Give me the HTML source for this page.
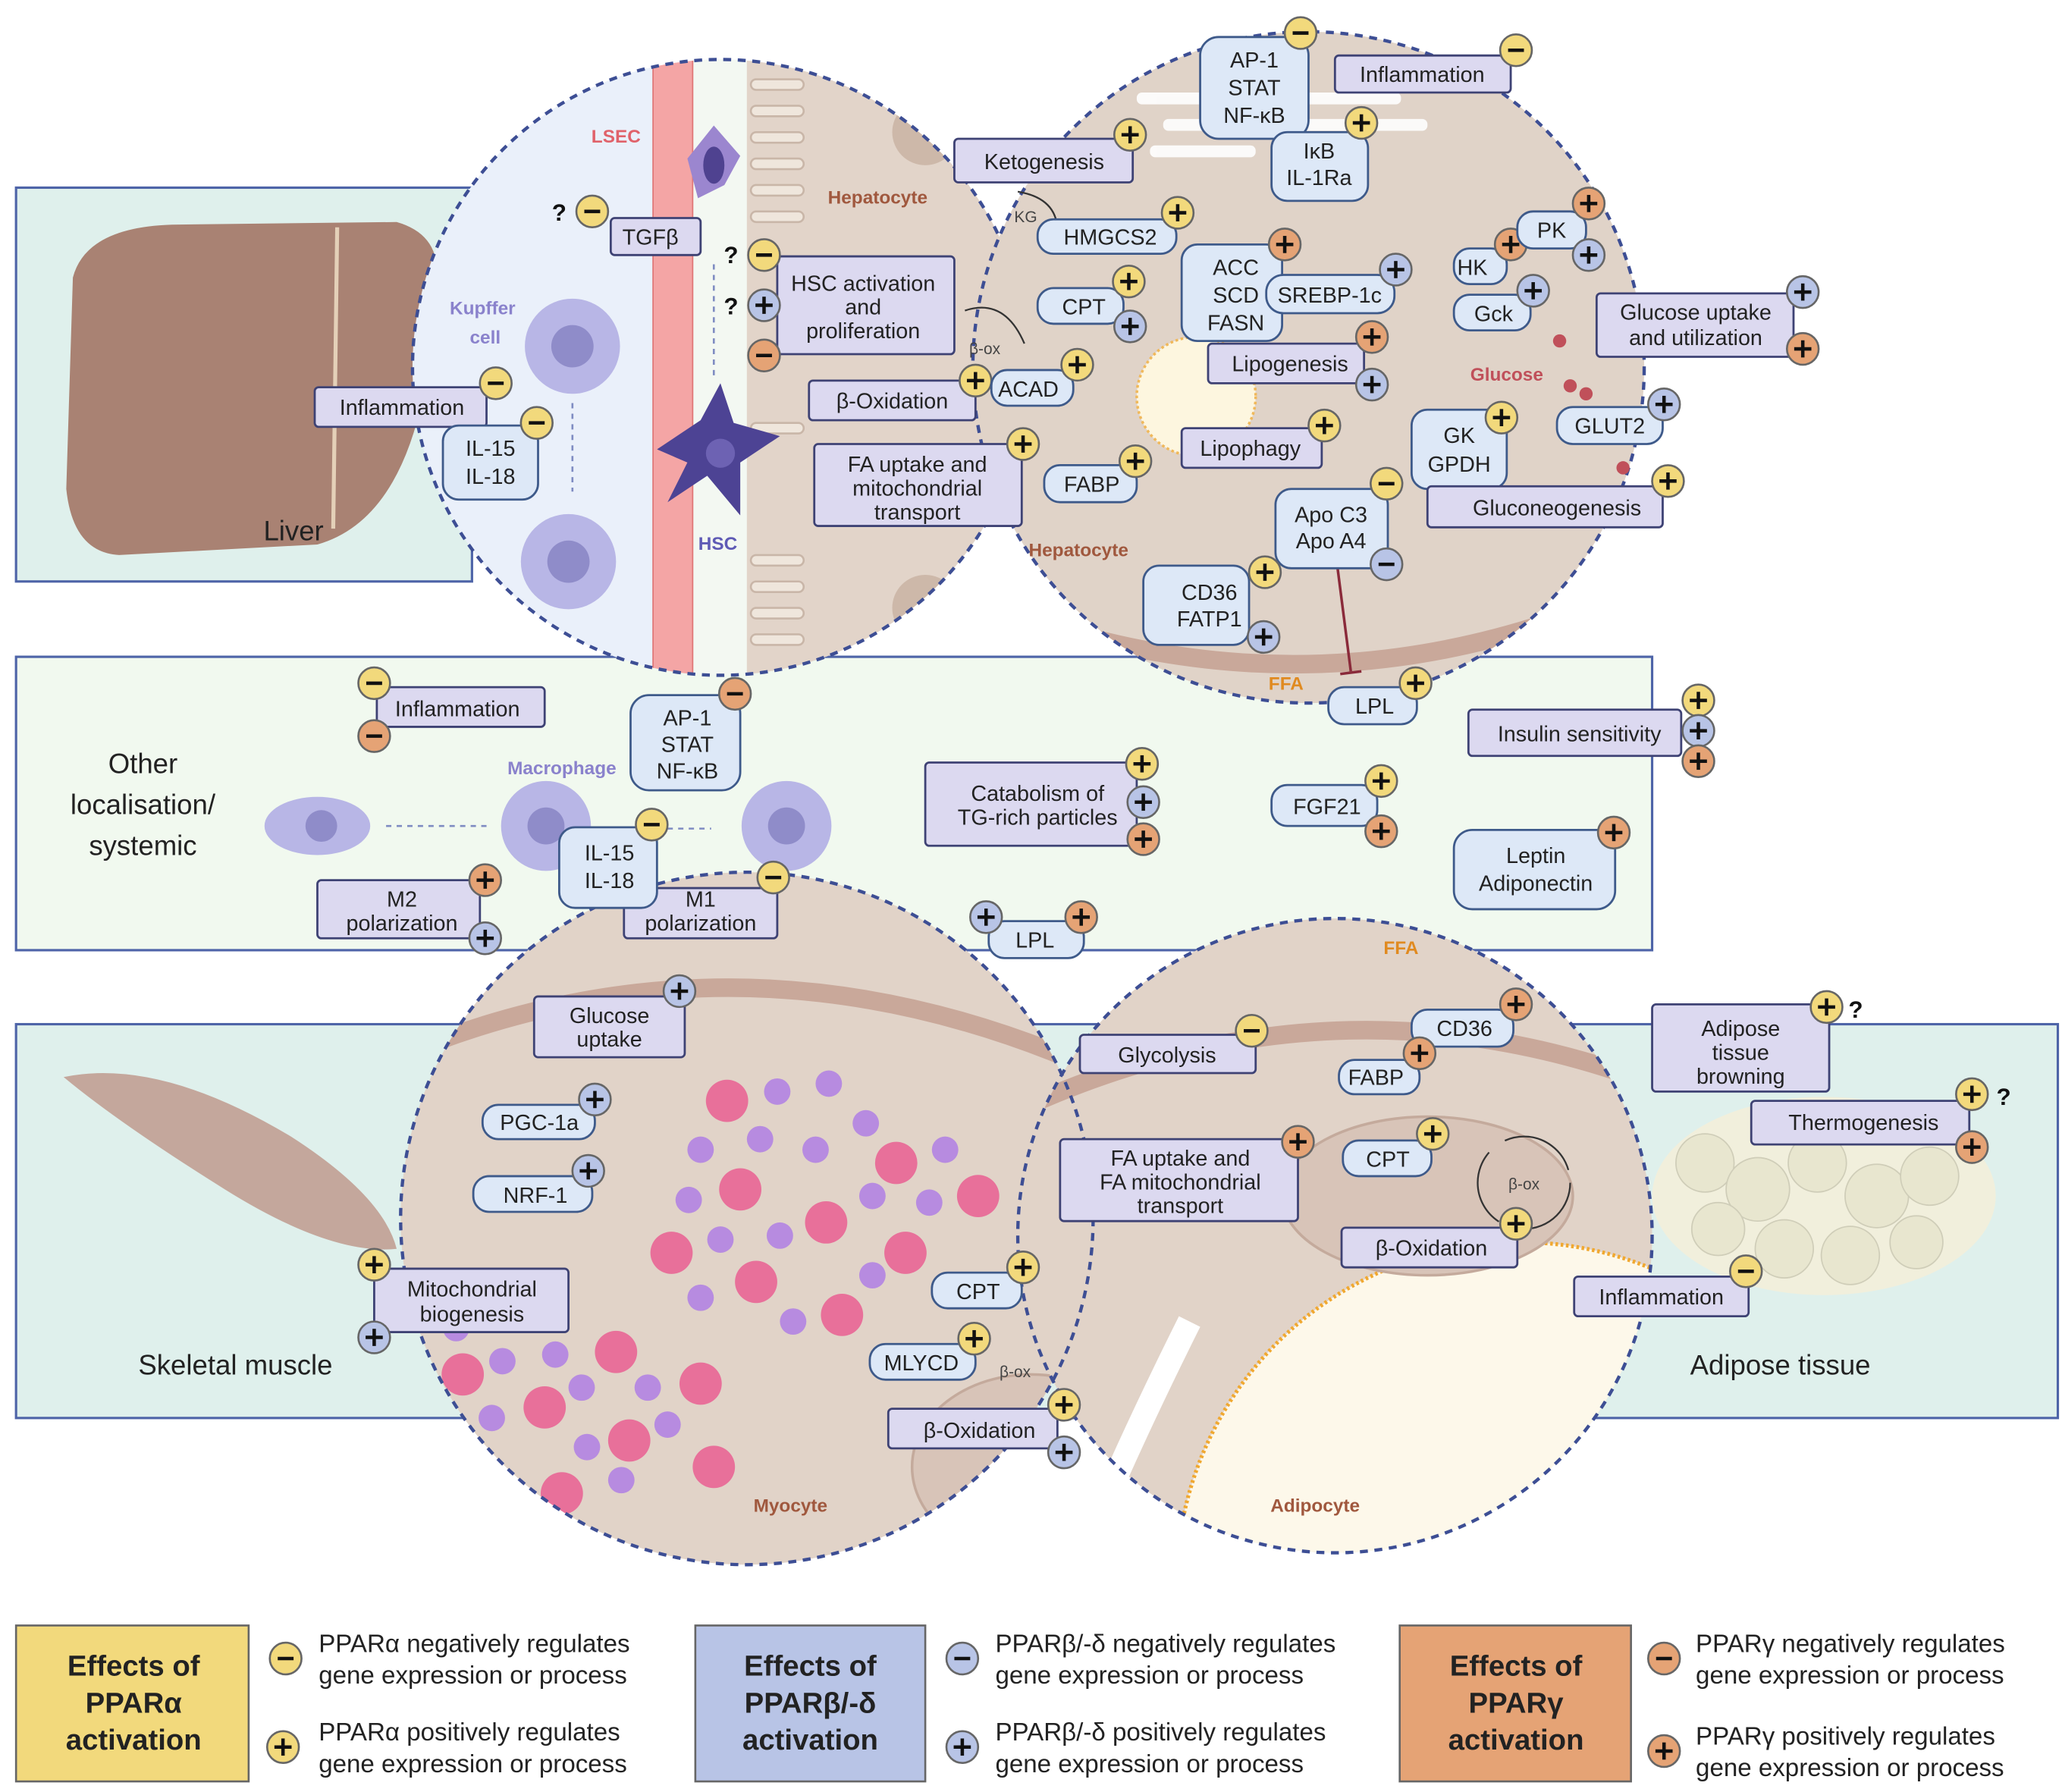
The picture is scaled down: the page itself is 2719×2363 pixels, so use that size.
<!DOCTYPE html>
<html><head><meta charset="utf-8"><style>
html,body{margin:0;padding:0;background:#fff;width:2719px;height:2363px;overflow:hidden}
svg{display:block}
text{font-family:"Liberation Sans",Arial,sans-serif}
.t{font-size:16.5px;fill:#222;text-anchor:middle}
.b{fill:#dcd9f0;stroke:#3e4274;stroke-width:1.6}
.p{fill:#dde8f7;stroke:#3e5a8a;stroke-width:1.6}
.lg{font-size:19px;fill:#222}
</style></head><body>
<svg width="2719" height="2363" viewBox="0 0 1560 1356" xmlns="http://www.w3.org/2000/svg">
<defs>
<g id="mn"><line x1="-6" y1="0" x2="6" y2="0" stroke="#111" stroke-width="2.6"/></g>
<g id="pl"><line x1="-6.5" y1="0" x2="6.5" y2="0" stroke="#111" stroke-width="2.6"/><line x1="0" y1="-6.5" x2="0" y2="6.5" stroke="#111" stroke-width="2.6"/></g>
<g id="ym"><circle r="12" fill="#f2d97c" stroke="#666" stroke-width="1.5"/><use href="#mn"/></g>
<g id="yp"><circle r="12" fill="#f2d97c" stroke="#666" stroke-width="1.5"/><use href="#pl"/></g>
<g id="bm"><circle r="12" fill="#b8c4e6" stroke="#666" stroke-width="1.5"/><use href="#mn"/></g>
<g id="bp"><circle r="12" fill="#b8c4e6" stroke="#666" stroke-width="1.5"/><use href="#pl"/></g>
<g id="om"><circle r="12" fill="#e5a375" stroke="#666" stroke-width="1.5"/><use href="#mn"/></g>
<g id="op"><circle r="12" fill="#e5a375" stroke="#666" stroke-width="1.5"/><use href="#pl"/></g>
<clipPath id="c1"><circle cx="545" cy="278" r="233"/></clipPath>
<clipPath id="c2"><circle cx="990" cy="278" r="254"/></clipPath>
<clipPath id="c3"><circle cx="565" cy="922" r="262"/></clipPath>
<clipPath id="c4"><circle cx="1010" cy="935" r="240"/></clipPath>
</defs>
<rect width="1560" height="1356" fill="#fff"/>
<rect x="12" y="142" width="345" height="298" fill="#dff0ec" stroke="#4e64a8" stroke-width="1.8"/>
<rect x="12" y="497" width="1238" height="222" fill="#f1f9ef" stroke="#4e64a8" stroke-width="1.8"/>
<rect x="12" y="775" width="1545" height="298" fill="#dff0ec" stroke="#4e64a8" stroke-width="1.8"/>
<path d="M55 210 Q65 172 130 170 L300 168 Q335 178 330 215 L320 300 Q300 395 240 412 L90 420 Q55 418 50 370 Z" fill="#a98273"/>
<path d="M255 172 L252 400" stroke="#e4d0b8" stroke-width="3" fill="none"/>
<text x="222" y="409" style="font-size:21px;fill:#222;text-anchor:middle">Liver</text>
<path d="M48 815 Q120 800 220 860 Q290 905 300 945 Q250 950 170 900 Q90 850 48 815 Z" fill="#c4a79c"/>
<text x="178" y="1040" style="font-size:21px;fill:#222;text-anchor:middle">Skeletal muscle</text>
<text x="1347" y="1040" style="font-size:21px;fill:#222;text-anchor:middle">Adipose tissue</text>
<ellipse cx="1380" cy="905" rx="130" ry="75" fill="#f1efdc"/>
<g fill="#e8e6cf" stroke="#cfcdb8">
<circle cx="1290" cy="880" r="22"/><circle cx="1330" cy="900" r="24"/><circle cx="1375" cy="880" r="22"/><circle cx="1420" cy="905" r="24"/><circle cx="1460" cy="890" r="22"/><circle cx="1350" cy="945" r="22"/><circle cx="1400" cy="950" r="22"/><circle cx="1450" cy="940" r="20"/><circle cx="1300" cy="930" r="20"/></g>
<text x="108" y="585" style="font-size:21px;fill:#222;text-anchor:middle">Other</text>
<text x="108" y="616" style="font-size:21px;fill:#222;text-anchor:middle">localisation/</text>
<text x="108" y="647" style="font-size:21px;fill:#222;text-anchor:middle">systemic</text>

<g clip-path="url(#c1)">
<rect x="300" y="40" width="500" height="480" fill="#eaf0fa"/>
<rect x="522" y="40" width="50" height="480" fill="#f3f8f2"/>
<rect x="565" y="40" width="240" height="480" fill="#e2d4c9"/>
<rect x="494" y="40" width="30" height="480" fill="#f4a5a5" stroke="#e07676"/>
<g stroke="#c9b6a8" fill="#efe6dc" stroke-width="1.5">
<rect x="568" y="60" width="40" height="8" rx="4"/><rect x="568" y="80" width="40" height="8" rx="4"/><rect x="568" y="100" width="40" height="8" rx="4"/><rect x="568" y="120" width="40" height="8" rx="4"/><rect x="568" y="140" width="40" height="8" rx="4"/><rect x="568" y="160" width="40" height="8" rx="4"/><rect x="568" y="320" width="40" height="8" rx="4"/><rect x="568" y="420" width="40" height="8" rx="4"/><rect x="568" y="440" width="40" height="8" rx="4"/><rect x="568" y="460" width="40" height="8" rx="4"/><rect x="568" y="480" width="40" height="8" rx="4"/></g>
<circle cx="700" cy="460" r="25" fill="#cdb8a9"/>
<circle cx="700" cy="100" r="25" fill="#cdb8a9"/>
</g>
<circle cx="545" cy="278" r="233" fill="none" stroke="#3d4e94" stroke-width="2.5" stroke-dasharray="6 5"/>
<circle cx="433" cy="262" r="36" fill="#b8b6e6"/><circle cx="433" cy="262" r="16" fill="#8f8cc9"/>
<circle cx="430" cy="425" r="36" fill="#b8b6e6"/><circle cx="430" cy="425" r="16" fill="#8f8cc9"/>
<path d="M540 95 L560 118 L548 140 L528 150 L520 120 Z" fill="#9b86cf"/><ellipse cx="540" cy="125" rx="8" ry="14" fill="#4f4290"/>
<path d="M497 340 L530 318 L545 290 L555 320 L590 330 L560 350 L560 390 L535 360 L505 380 L520 350 Z" fill="#4d4394"/><circle cx="545" cy="343" r="11" fill="#6d62b3"/>
<line x1="433" y1="305" x2="433" y2="372" stroke="#7f8cc2" stroke-width="1.5" stroke-dasharray="4 4"/>
<line x1="540" y1="200" x2="540" y2="285" stroke="#7f8cc2" stroke-width="1.5" stroke-dasharray="4 4"/>
<text x="466" y="108" style="font-size:14px;font-weight:bold;fill:#e0626a;text-anchor:middle">LSEC</text>
<text x="365" y="238" style="font-size:14px;font-weight:bold;fill:#8a82cc;text-anchor:middle">Kupffer</text>
<text x="367" y="260" style="font-size:14px;font-weight:bold;fill:#8a82cc;text-anchor:middle">cell</text>
<text x="543" y="416" style="font-size:14px;font-weight:bold;fill:#5e5ab5;text-anchor:middle">HSC</text>
<text x="664" y="154" style="font-size:14px;font-weight:bold;fill:#a0583e;text-anchor:middle">Hepatocyte</text>

<g clip-path="url(#c2)">
<rect x="730" y="20" width="520" height="520" fill="#e0d3c8"/>
<path d="M730 450 Q990 560 1250 440" stroke="#c9a89a" stroke-width="14" fill="none"/>
<g fill="#fff" opacity="0.9"><rect x="860" y="70" width="200" height="9" rx="4"/><rect x="880" y="90" width="200" height="9" rx="4"/><rect x="870" y="110" width="80" height="9" rx="4"/></g>
<circle cx="905" cy="300" r="45" fill="#fdf6df" stroke="#f0b85a" stroke-width="2" stroke-dasharray="2 2"/>
</g>
<circle cx="990" cy="278" r="254" fill="none" stroke="#3d4e94" stroke-width="2.5" stroke-dasharray="6 5"/>
<g fill="#c0505a"><circle cx="1180" cy="258" r="5"/><circle cx="1188" cy="292" r="5"/><circle cx="1200" cy="298" r="5"/><circle cx="1228" cy="354" r="5"/></g>
<text x="1140" y="288" style="font-size:14px;font-weight:bold;fill:#c0505a;text-anchor:middle">Glucose</text>
<text x="816" y="421" style="font-size:14px;font-weight:bold;fill:#a0583e;text-anchor:middle">Hepatocyte</text>
<text x="973" y="522" style="font-size:14px;font-weight:bold;fill:#e08a20;text-anchor:middle">FFA</text>
<text x="776" y="168" style="font-size:12px;fill:#444;text-anchor:middle">KG</text>
<text x="745" y="268" style="font-size:12px;fill:#444;text-anchor:middle">β-ox</text>
<path d="M770 145 Q800 150 800 175" stroke="#333" fill="none" stroke-width="1.3"/>
<path d="M730 235 Q760 225 775 260" stroke="#333" fill="none" stroke-width="1.3"/>
<path d="M1012 430 L1022 508" stroke="#8a2a3a" stroke-width="2"/><path d="M1014 510 L1030 508" stroke="#8a2a3a" stroke-width="2"/>

<circle cx="413" cy="625" r="34" fill="#b8b6e6"/><circle cx="413" cy="625" r="14" fill="#8f8cc9"/>
<circle cx="595" cy="625" r="34" fill="#b8b6e6"/><circle cx="595" cy="625" r="14" fill="#8f8cc9"/>
<ellipse cx="240" cy="625" rx="40" ry="22" fill="#b8b6e6"/><circle cx="243" cy="625" r="12" fill="#8f8cc9"/>
<line x1="292" y1="625" x2="368" y2="625" stroke="#7f8cc2" stroke-width="1.5" stroke-dasharray="4 4"/>
<line x1="497" y1="627" x2="538" y2="627" stroke="#7f8cc2" stroke-width="1.5" stroke-dasharray="4 4"/>
<text x="425" y="586" style="font-size:14px;font-weight:bold;fill:#8a82cc;text-anchor:middle">Macrophage</text>

<g clip-path="url(#c3)">
<rect x="300" y="650" width="540" height="540" fill="#e1d3c8"/>
<path d="M300 800 Q560 690 830 810" stroke="#c9a89a" stroke-width="14" fill="none"/>
<g fill="#e8709a"><circle cx="550" cy="833" r="16"/><circle cx="678" cy="880" r="16"/><circle cx="560" cy="900" r="16"/><circle cx="625" cy="925" r="16"/><circle cx="740" cy="905" r="16"/><circle cx="508" cy="948" r="16"/><circle cx="685" cy="948" r="16"/><circle cx="572" cy="970" r="16"/><circle cx="637" cy="995" r="16"/><circle cx="350" cy="1040" r="16"/><circle cx="412" cy="1065" r="16"/><circle cx="466" cy="1023" r="16"/><circle cx="530" cy="1047" r="16"/><circle cx="476" cy="1090" r="16"/><circle cx="540" cy="1110" r="16"/><circle cx="425" cy="1130" r="16"/></g>
<g fill="#b78be0"><circle cx="588" cy="826" r="10"/><circle cx="627" cy="820" r="10"/><circle cx="530" cy="870" r="10"/><circle cx="575" cy="862" r="10"/><circle cx="617" cy="870" r="10"/><circle cx="655" cy="850" r="10"/><circle cx="715" cy="870" r="10"/><circle cx="521" cy="908" r="10"/><circle cx="660" cy="905" r="10"/><circle cx="703" cy="910" r="10"/><circle cx="545" cy="938" r="10"/><circle cx="590" cy="935" r="10"/><circle cx="660" cy="965" r="10"/><circle cx="530" cy="982" r="10"/><circle cx="600" cy="1000" r="10"/><circle cx="345" cy="1005" r="10"/><circle cx="380" cy="1030" r="10"/><circle cx="420" cy="1025" r="10"/><circle cx="440" cy="1050" r="10"/><circle cx="490" cy="1050" r="10"/><circle cx="372" cy="1073" r="10"/><circle cx="444" cy="1095" r="10"/><circle cx="505" cy="1078" r="10"/><circle cx="470" cy="1120" r="10"/></g>
<ellipse cx="780" cy="1110" rx="90" ry="70" fill="#d8c4b8" stroke="#c4aa9c" stroke-width="2"/>
</g>
<g clip-path="url(#c4)">
<rect x="765" y="690" width="500" height="500" fill="#e1d3c8"/>
<path d="M770 840 Q1010 730 1250 820" stroke="#c9a89a" stroke-width="14" fill="none"/>
<circle cx="1150" cy="1200" r="260" fill="#fdf8ea" stroke="#f0a830" stroke-width="3" stroke-dasharray="2 2"/>
<ellipse cx="1080" cy="905" rx="110" ry="60" fill="#d8c4b8" stroke="#c4aa9c" stroke-width="2"/>
<path d="M900 1000 Q860 1080 830 1150" stroke="#fff" stroke-width="18" fill="none"/>
</g>
<circle cx="565" cy="922" r="262" fill="none" stroke="#3d4e94" stroke-width="2.5" stroke-dasharray="6 5"/>
<circle cx="1010" cy="935" r="240" fill="none" stroke="#3d4e94" stroke-width="2.5" stroke-dasharray="6 5"/>
<text x="598" y="1144" style="font-size:14px;font-weight:bold;fill:#a0583e;text-anchor:middle">Myocyte</text>
<text x="995" y="1144" style="font-size:14px;font-weight:bold;fill:#a0583e;text-anchor:middle">Adipocyte</text>
<text x="1060" y="722" style="font-size:14px;font-weight:bold;fill:#e08a20;text-anchor:middle">FFA</text>
<text x="768" y="1042" style="font-size:12px;fill:#444;text-anchor:middle">β-ox</text>
<text x="1153" y="900" style="font-size:12px;fill:#444;text-anchor:middle">β-ox</text>
<circle cx="1153" cy="895" r="35" fill="none" stroke="#333" stroke-width="1.3" stroke-dasharray="60 15"/>

<rect class="p" x="908" y="28" width="82" height="77" rx="14"/>
<text class="t" x="949" y="51">AP-1</text><text class="t" x="949" y="72">STAT</text><text class="t" x="949" y="93">NF-κB</text>
<use href="#ym" x="984" y="25"/>
<rect class="b" x="1010" y="42" width="133" height="28" rx="3"/><text class="t" x="1076" y="62">Inflammation</text><use href="#ym" x="1147" y="38"/>
<rect class="p" x="962" y="100" width="73" height="52" rx="12"/><text class="t" x="998" y="120">IκB</text><text class="t" x="998" y="140">IL-1Ra</text><use href="#yp" x="1030" y="93"/>
<rect class="b" x="722" y="105" width="135" height="33" rx="3"/><text class="t" x="790" y="128">Ketogenesis</text><use href="#yp" x="855" y="102"/>
<rect class="p" x="785" y="166" width="105" height="26" rx="12"/><text class="t" x="840" y="185">HMGCS2</text><use href="#yp" x="891" y="161"/>
<rect class="p" x="785" y="218" width="65" height="27" rx="12"/><text class="t" x="820" y="238">CPT</text><use href="#yp" x="854" y="213"/><use href="#bp" x="855" y="247"/>
<rect class="p" x="894" y="185" width="76" height="73" rx="12"/><text class="t" x="935" y="208">ACC</text><text class="t" x="935" y="229">SCD</text><text class="t" x="935" y="250">FASN</text><use href="#op" x="972" y="185"/>
<rect class="p" x="958" y="208" width="97" height="29" rx="13"/><text class="t" x="1006" y="229">SREBP-1c</text><use href="#bp" x="1056" y="204"/>
<rect class="b" x="914" y="260" width="118" height="30" rx="3"/><text class="t" x="976" y="281">Lipogenesis</text><use href="#op" x="1038" y="255"/><use href="#bp" x="1038" y="291"/>
<rect class="p" x="1100" y="188" width="40" height="27" rx="12"/><text class="t" x="1114" y="208">HK</text><use href="#op" x="1143" y="185"/>
<rect class="p" x="1148" y="160" width="52" height="28" rx="12"/><text class="t" x="1174" y="180">PK</text><use href="#op" x="1202" y="154"/><use href="#bp" x="1202" y="193"/>
<rect class="p" x="1100" y="223" width="58" height="27" rx="12"/><text class="t" x="1130" y="243">Gck</text><use href="#bp" x="1160" y="220"/>
<rect class="b" x="1208" y="222" width="149" height="48" rx="3"/><text class="t" x="1283" y="242">Glucose uptake</text><text class="t" x="1283" y="261">and utilization</text><use href="#bp" x="1364" y="221"/><use href="#op" x="1364" y="264"/>
<rect class="p" x="1178" y="308" width="80" height="28" rx="12"/><text class="t" x="1218" y="328">GLUT2</text><use href="#bp" x="1259" y="306"/>
<rect class="p" x="1068" y="310" width="72" height="60" rx="12"/><text class="t" x="1104" y="335">GK</text><text class="t" x="1104" y="357">GPDH</text><use href="#yp" x="1136" y="316"/>
<rect class="b" x="1080" y="368" width="178" height="31" rx="3"/><text class="t" x="1178" y="390">Gluconeogenesis</text><use href="#yp" x="1262" y="364"/>
<rect class="b" x="894" y="324" width="106" height="30" rx="3"/><text class="t" x="946" y="345">Lipophagy</text><use href="#yp" x="1002" y="322"/>
<rect class="p" x="790" y="352" width="70" height="28" rx="12"/><text class="t" x="826" y="372">FABP</text><use href="#yp" x="859" y="349"/>
<rect class="p" x="965" y="370" width="85" height="60" rx="12"/><text class="t" x="1007" y="395">Apo C3</text><text class="t" x="1007" y="415">Apo A4</text><use href="#ym" x="1049" y="366"/><use href="#bm" x="1049" y="427"/>
<rect class="p" x="865" y="428" width="80" height="60" rx="12"/><text class="t" x="915" y="454">CD36</text><text class="t" x="915" y="474">FATP1</text><use href="#yp" x="957" y="433"/><use href="#bp" x="956" y="482"/>
<rect class="p" x="1005" y="520" width="67" height="28" rx="12"/><text class="t" x="1040" y="540">LPL</text><use href="#yp" x="1071" y="517"/>
<rect class="b" x="588" y="194" width="134" height="74" rx="3"/><text class="t" x="653" y="220">HSC activation</text><text class="t" x="653" y="238">and</text><text class="t" x="653" y="256">proliferation</text>
<use href="#ym" x="578" y="193"/><use href="#bp" x="578" y="231"/><use href="#om" x="578" y="269"/>
<text x="553" y="199" style="font-size:18px;font-weight:bold;fill:#111;text-anchor:middle">?</text>
<text x="553" y="238" style="font-size:18px;font-weight:bold;fill:#111;text-anchor:middle">?</text>
<rect class="b" x="462" y="165" width="68" height="28" rx="3"/><text class="t" x="492" y="185">TGFβ</text><use href="#ym" x="448" y="160"/>
<text x="423" y="167" style="font-size:18px;font-weight:bold;fill:#111;text-anchor:middle">?</text>
<rect class="b" x="612" y="288" width="126" height="30" rx="3"/><text class="t" x="675" y="309">β-Oxidation</text><use href="#yp" x="738" y="288"/>
<rect class="p" x="750" y="280" width="62" height="27" rx="12"/><text class="t" x="778" y="300">ACAD</text><use href="#yp" x="815" y="276"/>
<rect class="b" x="616" y="336" width="157" height="62" rx="3"/><text class="t" x="694" y="357">FA uptake and</text><text class="t" x="694" y="375">mitochondrial</text><text class="t" x="694" y="393">transport</text><use href="#yp" x="774" y="336"/>
<rect class="b" x="238" y="293" width="130" height="30" rx="3"/><text class="t" x="304" y="314">Inflammation</text><use href="#ym" x="375" y="290"/>
<rect class="p" x="335" y="322" width="72" height="56" rx="12"/><text class="t" x="371" y="345">IL-15</text><text class="t" x="371" y="366">IL-18</text><use href="#ym" x="406" y="320"/>

<rect class="b" x="285" y="520" width="127" height="30" rx="3"/><text class="t" x="346" y="542">Inflammation</text><use href="#ym" x="283" y="517"/><use href="#om" x="283" y="557"/>
<rect class="p" x="477" y="526" width="83" height="72" rx="14"/><text class="t" x="520" y="549">AP-1</text><text class="t" x="520" y="569">STAT</text><text class="t" x="520" y="589">NF-κB</text><use href="#om" x="556" y="525"/>
<rect class="b" x="472" y="672" width="116" height="38" rx="3"/><text class="t" x="530" y="686">M1</text><text class="t" x="530" y="704">polarization</text><use href="#ym" x="585" y="664"/>
<rect class="p" x="423" y="626" width="74" height="61" rx="12"/><text class="t" x="461" y="651">IL-15</text><text class="t" x="461" y="672">IL-18</text><use href="#ym" x="493" y="624"/>
<rect class="b" x="240" y="666" width="123" height="44" rx="3"/><text class="t" x="304" y="686">M2</text><text class="t" x="304" y="704">polarization</text><use href="#op" x="367" y="666"/><use href="#bp" x="367" y="710"/>
<rect class="b" x="700" y="577" width="160" height="63" rx="3"/><text class="t" x="785" y="606">Catabolism of</text><text class="t" x="785" y="624">TG-rich particles</text><use href="#yp" x="864" y="578"/><use href="#bp" x="865" y="607"/><use href="#op" x="865" y="635"/>
<rect class="p" x="748" y="697" width="72" height="28" rx="12"/><text class="t" x="783" y="717">LPL</text><use href="#bp" x="746" y="694"/><use href="#op" x="818" y="694"/>
<rect class="p" x="962" y="594" width="80" height="31" rx="12"/><text class="t" x="1004" y="616">FGF21</text><use href="#yp" x="1045" y="591"/><use href="#op" x="1045" y="629"/>
<rect class="b" x="1111" y="537" width="161" height="35" rx="3"/><text class="t" x="1195" y="561">Insulin sensitivity</text><use href="#yp" x="1285" y="530"/><use href="#bp" x="1285" y="553"/><use href="#op" x="1285" y="576"/>
<rect class="p" x="1100" y="628" width="122" height="60" rx="14"/><text class="t" x="1162" y="653">Leptin</text><text class="t" x="1162" y="674">Adiponectin</text><use href="#op" x="1221" y="630"/>

<rect class="b" x="404" y="754" width="114" height="46" rx="3"/><text class="t" x="461" y="774">Glucose</text><text class="t" x="461" y="792">uptake</text><use href="#bp" x="514" y="750"/>
<rect class="p" x="365" y="836" width="85" height="26" rx="12"/><text class="t" x="408" y="855">PGC-1a</text><use href="#bp" x="450" y="832"/>
<rect class="p" x="358" y="890" width="90" height="27" rx="12"/><text class="t" x="405" y="910">NRF-1</text><use href="#bp" x="445" y="886"/>
<rect class="b" x="283" y="960" width="147" height="48" rx="3"/><text class="t" x="357" y="981">Mitochondrial</text><text class="t" x="357" y="1000">biogenesis</text><use href="#yp" x="283" y="957"/><use href="#bp" x="283" y="1012"/>
<rect class="p" x="705" y="963" width="68" height="27" rx="12"/><text class="t" x="740" y="983">CPT</text><use href="#yp" x="774" y="959"/>
<rect class="p" x="658" y="1017" width="80" height="27" rx="12"/><text class="t" x="697" y="1037">MLYCD</text><use href="#yp" x="737" y="1013"/>
<rect class="b" x="672" y="1066" width="128" height="30" rx="3"/><text class="t" x="741" y="1088">β-Oxidation</text><use href="#yp" x="805" y="1063"/><use href="#bp" x="805" y="1099"/>
<rect class="b" x="817" y="783" width="133" height="29" rx="3"/><text class="t" x="883" y="804">Glycolysis</text><use href="#ym" x="947" y="780"/>
<rect class="p" x="1068" y="764" width="77" height="28" rx="12"/><text class="t" x="1108" y="784">CD36</text><use href="#op" x="1147" y="760"/>
<rect class="p" x="1013" y="802" width="61" height="26" rx="12"/><text class="t" x="1041" y="821">FABP</text><use href="#op" x="1074" y="797"/>
<rect class="b" x="802" y="862" width="180" height="62" rx="3"/><text class="t" x="893" y="882">FA uptake and</text><text class="t" x="893" y="900">FA mitochondrial</text><text class="t" x="893" y="918">transport</text><use href="#op" x="982" y="864"/>
<rect class="p" x="1016" y="863" width="67" height="27" rx="12"/><text class="t" x="1050" y="883">CPT</text><use href="#yp" x="1084" y="858"/>
<rect class="b" x="1015" y="929" width="133" height="30" rx="3"/><text class="t" x="1083" y="950">β-Oxidation</text><use href="#yp" x="1147" y="926"/>
<rect class="b" x="1250" y="760" width="134" height="66" rx="3"/><text class="t" x="1317" y="784">Adipose</text><text class="t" x="1317" y="802">tissue</text><text class="t" x="1317" y="820">browning</text><use href="#yp" x="1382" y="762"/>
<text x="1404" y="770" style="font-size:18px;font-weight:bold;fill:#111;text-anchor:middle">?</text>
<rect class="b" x="1325" y="833" width="165" height="33" rx="3"/><text class="t" x="1410" y="855">Thermogenesis</text><use href="#yp" x="1492" y="828"/><use href="#op" x="1492" y="868"/>
<text x="1516" y="836" style="font-size:18px;font-weight:bold;fill:#111;text-anchor:middle">?</text>
<rect class="b" x="1191" y="966" width="132" height="30" rx="3"/><text class="t" x="1257" y="987">Inflammation</text><use href="#ym" x="1321" y="962"/>

<rect x="12" y="1230" width="176" height="118" fill="#f2d97c" stroke="#666" stroke-width="1.5"/>
<text x="101" y="1268" style="font-size:22px;font-weight:bold;fill:#222;text-anchor:middle">Effects of</text>
<text x="101" y="1296" style="font-size:22px;font-weight:bold;fill:#222;text-anchor:middle">PPARα</text>
<text x="101" y="1324" style="font-size:22px;font-weight:bold;fill:#222;text-anchor:middle">activation</text>
<use href="#ym" x="216" y="1255"/>
<use href="#yp" x="214" y="1322"/>
<text class="lg" x="241" y="1250">PPARα negatively regulates</text><text class="lg" x="241" y="1274">gene expression or process</text>
<text class="lg" x="241" y="1317">PPARα positively regulates</text><text class="lg" x="241" y="1341">gene expression or process</text>
<rect x="526" y="1230" width="174" height="118" fill="#b8c4e6" stroke="#666" stroke-width="1.5"/>
<text x="613" y="1268" style="font-size:22px;font-weight:bold;fill:#222;text-anchor:middle">Effects of</text>
<text x="613" y="1296" style="font-size:22px;font-weight:bold;fill:#222;text-anchor:middle">PPARβ/-δ</text>
<text x="613" y="1324" style="font-size:22px;font-weight:bold;fill:#222;text-anchor:middle">activation</text>
<use href="#bm" x="728" y="1255"/><use href="#bp" x="728" y="1322"/>
<text class="lg" x="753" y="1250">PPARβ/-δ negatively regulates</text><text class="lg" x="753" y="1274">gene expression or process</text>
<text class="lg" x="753" y="1317">PPARβ/-δ positively regulates</text><text class="lg" x="753" y="1341">gene expression or process</text>
<rect x="1059" y="1230" width="175" height="118" fill="#e5a375" stroke="#666" stroke-width="1.5"/>
<text x="1147" y="1268" style="font-size:22px;font-weight:bold;fill:#222;text-anchor:middle">Effects of</text>
<text x="1147" y="1296" style="font-size:22px;font-weight:bold;fill:#222;text-anchor:middle">PPARγ</text>
<text x="1147" y="1324" style="font-size:22px;font-weight:bold;fill:#222;text-anchor:middle">activation</text>
<use href="#om" x="1259" y="1255"/><use href="#op" x="1259" y="1325"/>
<text class="lg" x="1283" y="1250">PPARγ negatively regulates</text><text class="lg" x="1283" y="1274">gene expression or process</text>
<text class="lg" x="1283" y="1320">PPARγ positively regulates</text><text class="lg" x="1283" y="1344">gene expression or process</text>
</svg>
</body></html>
